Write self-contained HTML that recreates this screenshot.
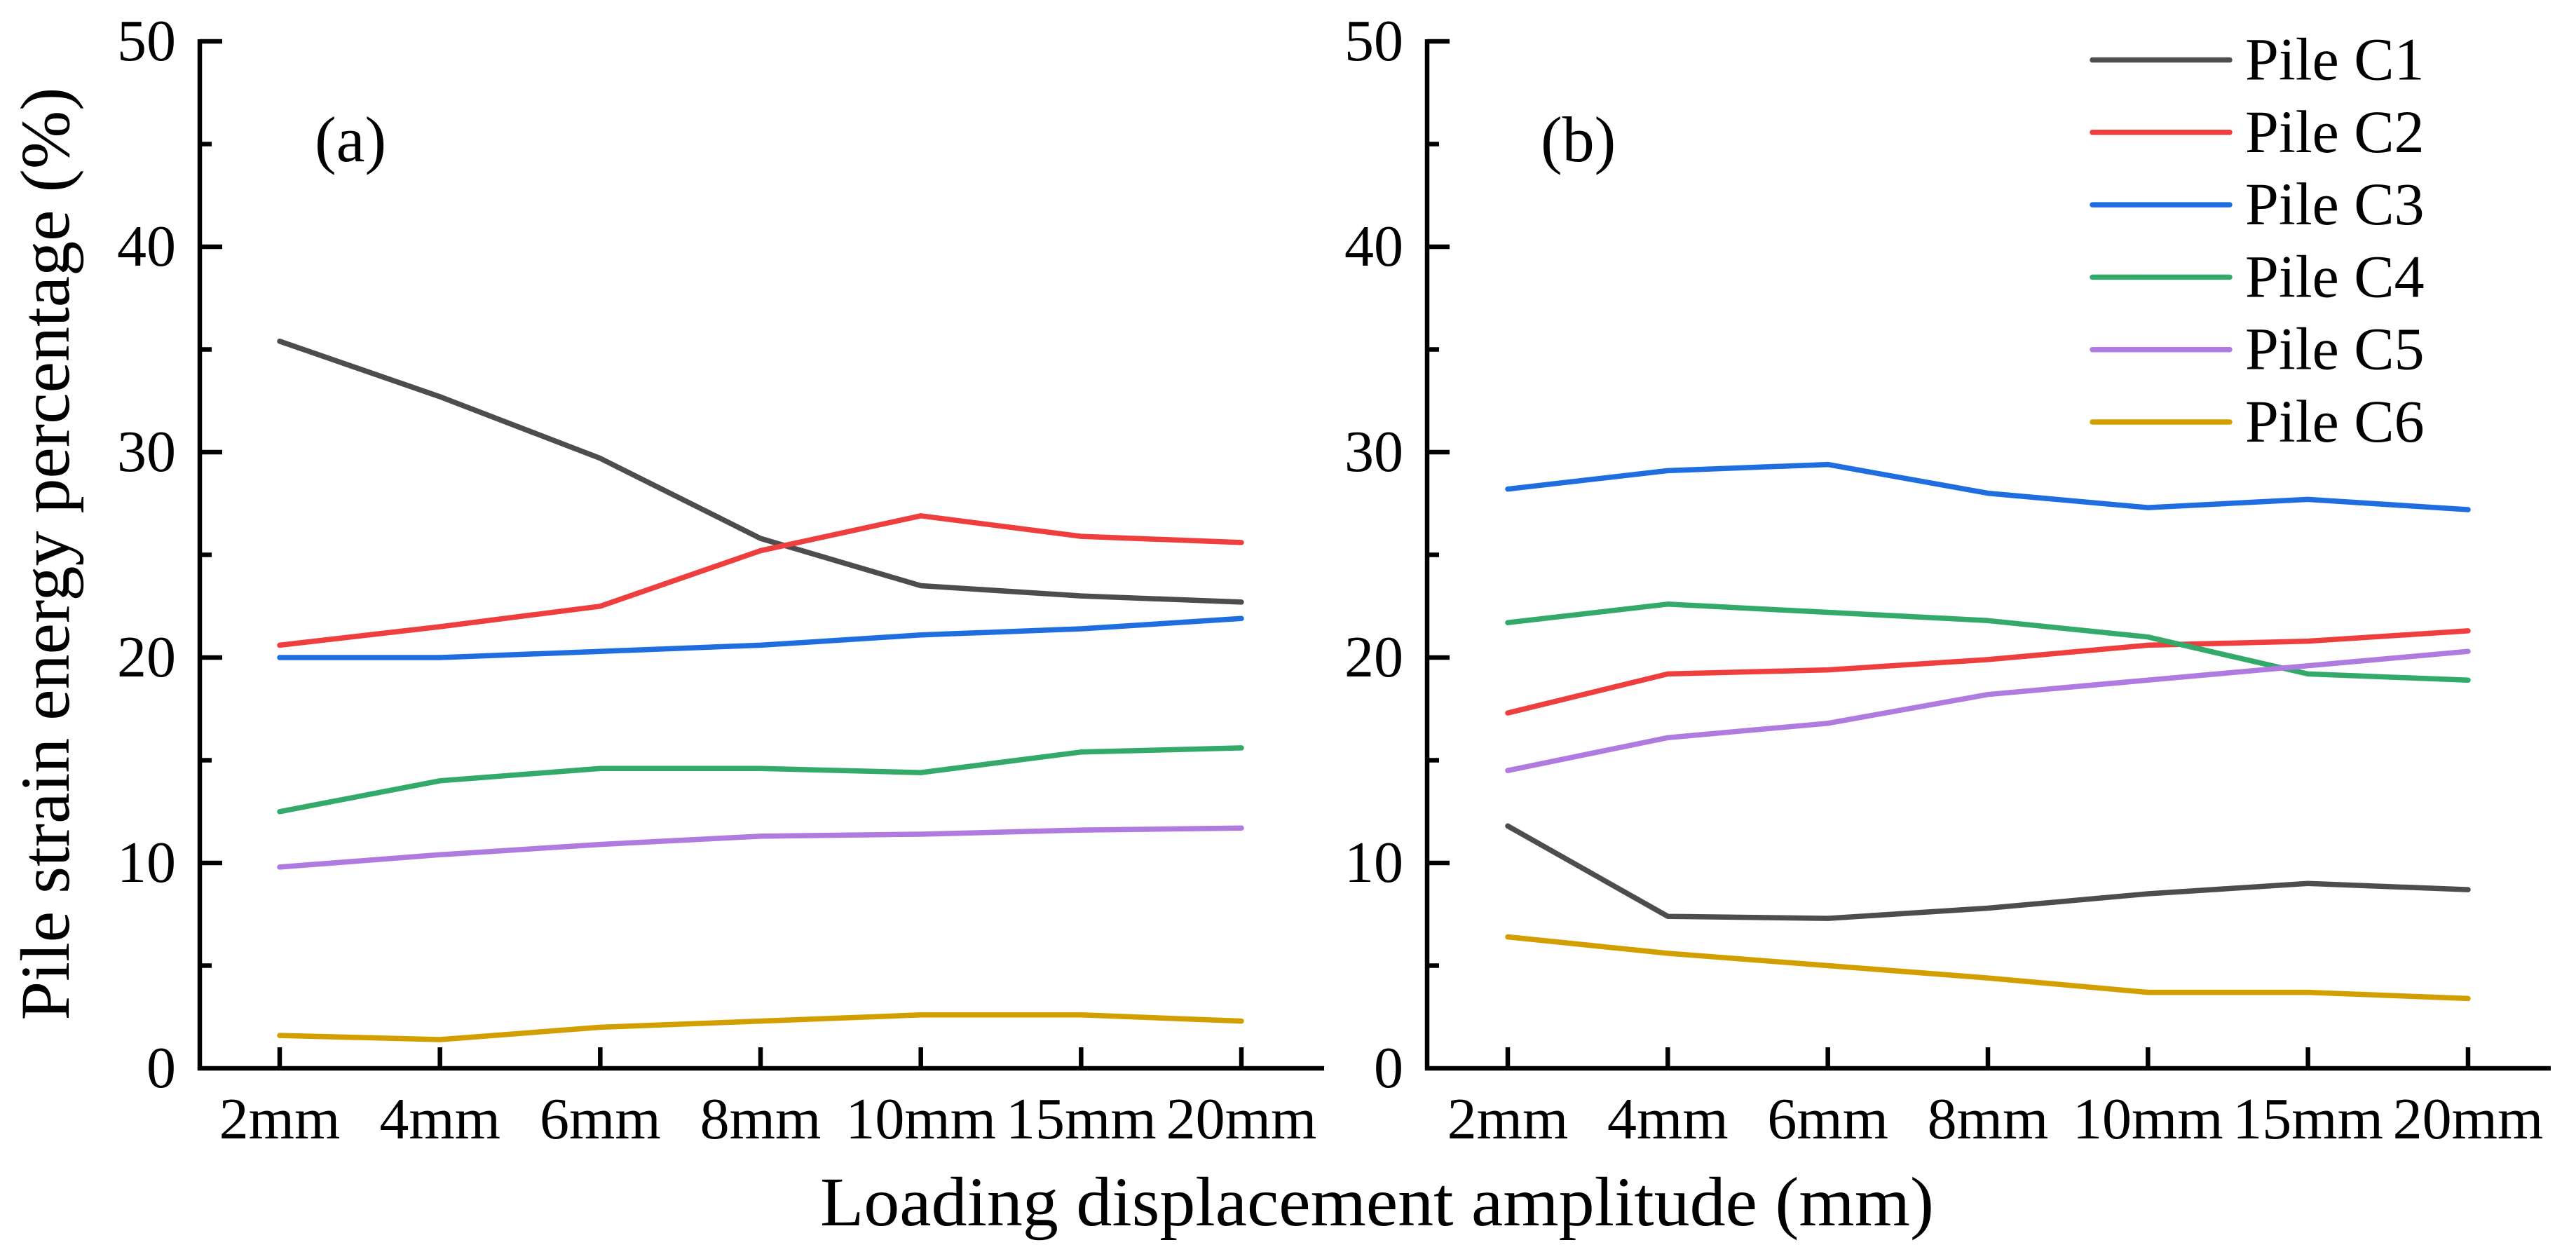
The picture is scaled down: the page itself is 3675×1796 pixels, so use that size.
<!DOCTYPE html>
<html><head><meta charset="utf-8"><style>
html,body{margin:0;padding:0;background:#fff;}
svg{display:block;}
text{font-family:"Liberation Serif","DejaVu Serif",serif;fill:#000;}
</style></head><body>
<svg id="chart" width="3675" height="1796" viewBox="0 0 3675 1796" xmlns="http://www.w3.org/2000/svg"></svg>
<script>
const categories = ["2mm","4mm","6mm","8mm","10mm","15mm","20mm"];
const yTicks = [0,10,20,30,40,50];
const seriesNames = ["Pile C1","Pile C2","Pile C3","Pile C4","Pile C5","Pile C6"];
const colors = ["#4d4d4d","#ef3e3e","#1f6ee0","#33aa6a","#b07be0","#d39e00"];
const aC1 = [35.4,32.7,29.7,25.8,23.5,23.0,22.7];
const aC2 = [20.6,21.5,22.5,25.2,26.9,25.9,25.6];
const aC3 = [20.0,20.0,20.3,20.6,21.1,21.4,21.9];
const aC4 = [12.5,14.0,14.6,14.6,14.4,15.4,15.6];
const aC5 = [9.8,10.4,10.9,11.3,11.4,11.6,11.7];
const aC6 = [1.6,1.4,2.0,2.3,2.6,2.6,2.3];
const bC1 = [11.8,7.4,7.3,7.8,8.5,9.0,8.7];
const bC2 = [17.3,19.2,19.4,19.9,20.6,20.8,21.3];
const bC3 = [28.2,29.1,29.4,28.0,27.3,27.7,27.2];
const bC4 = [21.7,22.6,22.2,21.8,21.0,19.2,18.9];
const bC5 = [14.5,16.1,16.8,18.2,18.9,19.6,20.3];
const bC6 = [6.4,5.6,5.0,4.4,3.7,3.7,3.4];

const NS = "http://www.w3.org/2000/svg";
const svg = document.getElementById("chart");
function mk(tag, attrs, parent, text){
  const e = document.createElementNS(NS, tag);
  for (const k in attrs) e.setAttribute(k, attrs[k]);
  if (text !== undefined) e.textContent = text;
  (parent || svg).appendChild(e);
  return e;
}
const Y0 = 1524, Y50 = 59;
function yScale(v){ return Y0 - (v/50)*(Y0-Y50); }

function panel(id, axisX, cat0, catStep, axisEnd, series, label, labelX){
  const g = mk("g", {});
  
  
  const xS = i => cat0 + catStep*i;
  const ax = mk("path", {d:`M${axisX},${Y50-3} V${Y0} H${axisEnd}`, fill:"none", stroke:"#000", "stroke-width":6.5}, g);
  
  
  for (let v=5; v<=50; v+=5){
    const y = yScale(v);
    const len = (v%10===0) ? 32 : 17;
    const t = mk("line", {x1:axisX, x2:axisX+len, y1:y, y2:y, stroke:"#000", "stroke-width":6.5}, g);
    
    
  }
  yTicks.forEach(v => {
    const t = mk("text", {x:axisX-34, y:yScale(v)+27, "font-size":84, "text-anchor":"end"}, g, String(v));
    
    
  });
  categories.forEach((c,i) => {
    const t = mk("line", {x1:xS(i), x2:xS(i), y1:Y0, y2:Y0-30, stroke:"#000", "stroke-width":6.5}, g);
    
    
    const l = mk("text", {x:xS(i), y:1624, "font-size":84, "text-anchor":"middle"}, g, c);
    
    
  });
  series.forEach((vals, s) => {
    const d = vals.map((v,i) => (i?"L":"M") + xS(i).toFixed(1) + "," + yScale(v).toFixed(1)).join(" ");
    const p = mk("path", {d:d, fill:"none", stroke:colors[s], "stroke-width":7.5, "stroke-linejoin":"round", "stroke-linecap":"round"}, g);
    
    
  });
  const pl = mk("text", {x:labelX, y:230, "font-size":92}, g, label);
  
  
}
panel("a", 285, 399, 228.67, 1889, [aC1,aC2,aC3,aC4,aC5,aC6], "(a)", 449);
panel("b", 2036, 2151, 228.33, 3639, [bC1,bC2,bC3,bC4,bC5,bC6], "(b)", 2198);

const lg = mk("g", {});


seriesNames.forEach((n, s) => {
  const y = 85.5 + s*103.3;
  const l = mk("line", {x1:2985, x2:3181, y1:y, y2:y, stroke:colors[s], "stroke-width":7.5, "stroke-linecap":"round"}, lg);
  
  
  const t = mk("text", {x:3203, y:y+28, "font-size":86}, lg, n);
  
  
});

const xt = mk("text", {x:1170, y:1748, "font-size":100, textLength:1589, lengthAdjust:"spacingAndGlyphs"}, svg, "Loading displacement amplitude (mm)");


const yt = mk("text", {x:0, y:0, "font-size":100, "text-anchor":"middle", transform:"translate(98,790) rotate(-90)"}, svg, "Pile strain energy percentage (%)");


</script>
</body></html>
